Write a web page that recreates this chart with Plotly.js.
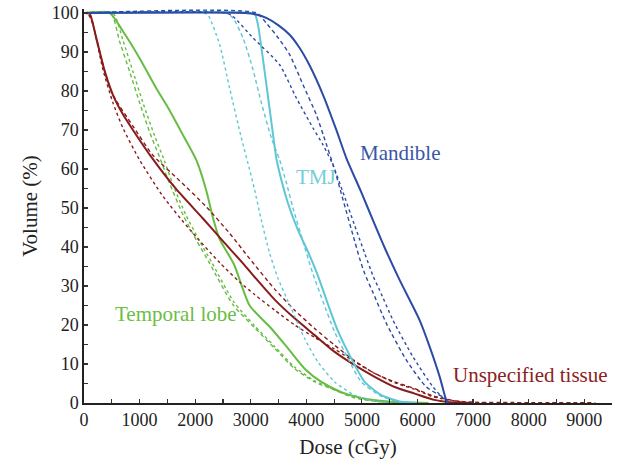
<!DOCTYPE html>
<html>
<head>
<meta charset="utf-8">
<script src="https://cdn.plot.ly/plotly-3.0.1.min.js"></script>
<style>html,body{margin:0;padding:0;background:#fff;}#chart{width:620px;height:465px;}</style>
</head>
<body>
<div id="chart"></div>
<script>
// Mandible
const mandSolidX = [0, 2900, 3100, 3280, 3500, 3700, 3880, 4060, 4300, 4540, 4720, 4990, 5200, 5410, 5680, 6040, 6220, 6400, 6490, 6530];
const mandSolidY = [100, 100, 99.6, 98.7, 96.8, 94.4, 91, 86.5, 79, 70, 62.8, 54, 46.8, 39.8, 31.5, 21.2, 14.4, 6.7, 2, 0];
const mandDashX = [0, 3100, 3280, 3500, 3700, 3940, 4180, 4310, 4510, 4660, 4870, 4960, 5050, 5200, 5440, 5800, 6160, 6460, 6600];
const mandDashY = [100, 100, 97.4, 93.5, 89.3, 81.6, 73.9, 68.5, 59.8, 52.1, 41.5, 37, 33.2, 28.3, 20.4, 11, 4.1, 1.5, 0];
const mandDotX = [0, 2550, 2680, 3040, 3520, 3820, 4120, 4300, 4480, 4660, 4870, 5050, 5200, 5320, 5560, 5920, 6280, 6480, 6600];
const mandDotY = [100, 100, 99.1, 93.6, 86.7, 78.2, 70.5, 66.2, 61, 54, 45.5, 38.4, 32.6, 28.9, 21.2, 11.8, 4.1, 1, 0];

// TMJ
const tmjSolidX = [0, 3000, 3080, 3130, 3250, 3390, 3460, 3550, 3670, 3850, 4030, 4210, 4360, 4570, 4810, 5050, 5350, 5710, 6000];
const tmjSolidY = [100, 100, 99.5, 97, 85, 70, 62.8, 57.2, 51.2, 44.3, 38.8, 32.6, 26.5, 18.4, 11.4, 5.4, 2, 0.3, 0];
const tmjDashX = [0, 2550, 2680, 2860, 3040, 3190, 3370, 3520, 3640, 3760, 3970, 4110, 4300, 4510, 4750, 4990, 5350, 5700, 6000];
const tmjDashY = [100, 100, 98.7, 93.6, 85.5, 77, 68, 62.3, 56.5, 50, 40, 33.5, 26, 18.2, 11.4, 5.4, 1.7, 0.2, 0];
const tmjDotX = [0, 2150, 2230, 2440, 2620, 2830, 2980, 3070, 3190, 3340, 3490, 3730, 3970, 4210, 4510, 4870, 5230, 5600];
const tmjDotY = [100, 100, 99.5, 91.9, 80.7, 68, 59.8, 54.6, 46.9, 38.4, 32, 24.2, 16.5, 10.5, 5.4, 2, 0.5, 0];

// Temporal lobe
const tlSolidX = [0, 460, 700, 1000, 1300, 1480, 1750, 2020, 2200, 2320, 2440, 2700, 2980, 3370, 3670, 3970, 4270, 4630, 4990, 5480, 6200];
const tlSolidY = [100, 100, 95.3, 88.4, 80.7, 76.5, 69.5, 62.3, 54.5, 47.5, 42, 35.5, 25, 19.1, 14, 8.8, 5.4, 2.8, 1.3, 0.4, 0];
const tlDashX = [0, 480, 640, 820, 1000, 1180, 1360, 1540, 1780, 2020, 2260, 2680, 3070, 3430, 3790, 4150, 4510, 4870, 5350, 6000];
const tlDashY = [100, 100, 92.7, 85, 77, 69.5, 63, 56.3, 48.3, 41.8, 35.8, 25.2, 19.3, 14, 8.8, 5.4, 3.3, 1.3, 0.3, 0];
const tlDotX = [0, 520, 700, 880, 1060, 1270, 1450, 1600, 1830, 2080, 2300, 2700, 3070, 3430, 3790, 4150, 4510, 4870, 5350, 6000];
const tlDotY = [100, 100, 93, 85, 77, 68.5, 62, 56, 48.3, 41.5, 36, 25.8, 19.8, 14.5, 9.2, 5.7, 3.4, 1.4, 0.3, 0];

// Unspecified tissue
const utSolidX = [0, 100, 220, 370, 520, 700, 880, 1240, 1660, 2140, 2500, 2860, 3070, 3430, 3790, 4150, 4510, 4870, 5230, 5590, 5950, 6300, 6700, 7000];
const utSolidY = [100, 99.8, 93.6, 85.2, 79, 74, 70, 62.5, 54.8, 47.3, 41.5, 35.8, 32.3, 26.5, 21.7, 17.4, 13.1, 9.7, 6.7, 4.1, 2.4, 0.8, 0.1, 0];
const utDashX = [0, 100, 220, 370, 520, 880, 1240, 1720, 2200, 2620, 2980, 3430, 3790, 4150, 4510, 4870, 5230, 5590, 5950, 6280, 6700, 7000, 9200];
const utDashY = [100, 99.8, 93.6, 85.2, 79, 71, 63.5, 57, 50.3, 43.5, 37, 29.2, 23.8, 19.1, 14.8, 10.8, 7.6, 5.4, 3.7, 1.8, 0.5, 0.2, 0.1];
const utDotX = [0, 60, 160, 340, 520, 700, 1000, 1420, 1900, 2440, 2800, 3070, 3430, 3790, 4150, 4510, 4870, 5230, 5590, 5950, 6300, 6800, 7200];
const utDotY = [100, 100, 97, 85.5, 77, 70.5, 62.3, 53, 44.5, 36, 31, 27.8, 23.8, 20, 16.8, 13.8, 10.6, 7.6, 5.2, 3.5, 1.5, 0.3, 0];

const structNames = ["Mandible", "TMJ", "Temporal lobe", "Unspecified tissue"];
const xTicks = [0, 1000, 2000, 3000, 4000, 5000, 6000, 7000, 8000, 9000];
const yTicks = [0, 10, 20, 30, 40, 50, 60, 70, 80, 90, 100];

const cMand = "#2b4ba5", cTmj = "#5ec7d6", cTl = "#67bc44", cUt = "#8a1b1b";
const DASH = "4px,3px";
function tr(x, y, color, dash, width) {
  return {x: x, y: y, type: "scatter", mode: "lines",
    line: {color: color, width: width, dash: dash, shape: "spline", smoothing: 0.6},
    hoverinfo: "skip", showlegend: false};
}
const data = [
  tr(tlDotX, tlDotY, cTl, "dot", 1.4),
  tr(tlDashX, tlDashY, cTl, DASH, 1.4),
  tr(tlSolidX, tlSolidY, cTl, "solid", 2),
  tr(utDotX, utDotY, cUt, "dot", 1.4),
  tr(utDashX, utDashY, cUt, DASH, 1.4),
  tr(utSolidX, utSolidY, cUt, "solid", 2),
  tr(tmjDotX, tmjDotY, cTmj, "dot", 1.4),
  tr(tmjDashX, tmjDashY, cTmj, DASH, 1.4),
  tr(tmjSolidX, tmjSolidY, cTmj, "solid", 2),
  tr(mandDotX, mandDotY, cMand, "dot", 1.4),
  tr(mandDashX, mandDashY, cMand, DASH, 1.4),
  tr(mandSolidX, mandSolidY, cMand, "solid", 2)
];

const FONT = "Liberation Serif, DejaVu Serif, serif";
const layout = {
  width: 620, height: 465,
  margin: {l: 84, r: 8, t: 9, b: 62, pad: 0},
  paper_bgcolor: "#fff", plot_bgcolor: "#fff",
  font: {family: FONT, size: 18, color: "#222"},
  xaxis: {
    range: [0, 9500], tickvals: xTicks, ticktext: xTicks.map(String),
    ticks: "inside", ticklen: 4, tickwidth: 1.2, tickcolor: "#333",
    minor: {dtick: 500, tick0: 0, ticks: "inside", ticklen: 4, tickwidth: 1.2, tickcolor: "#333"},
    showline: true, linecolor: "#222", linewidth: 1.6, showgrid: false, zeroline: false,
    tickfont: {family: FONT, size: 18, color: "#222"},
    title: {text: "Dose (cGy)", font: {family: FONT, size: 21, color: "#222"}, standoff: 10}
  },
  yaxis: {
    range: [0, 101], tickvals: yTicks, ticktext: yTicks.map(String),
    ticks: "inside", ticklen: 4, tickwidth: 1.2, tickcolor: "#333",
    minor: {dtick: 5, tick0: 0, ticks: "inside", ticklen: 4, tickwidth: 1.2, tickcolor: "#333"},
    showline: true, linecolor: "#222", linewidth: 1.6, showgrid: false, zeroline: false,
    tickfont: {family: FONT, size: 18, color: "#222"},
    title: {text: "Volume (%)", font: {family: FONT, size: 21, color: "#222"}, standoff: 8}
  },
  annotations: [
    {x: 5680, y: 64.1, text: structNames[0], showarrow: false, font: {family: FONT, size: 21, color: "#3a55a8"}},
    {x: 4170, y: 58, text: structNames[1], showarrow: false, font: {family: FONT, size: 21, color: "#74ced9"}},
    {x: 1650, y: 22.8, text: structNames[2], showarrow: false, font: {family: FONT, size: 21, color: "#6cbd45"}},
    {x: 8036, y: 7.1, text: structNames[3], showarrow: false, font: {family: FONT, size: 21, color: "#8b2222"}}
  ]
};
Plotly.newPlot("chart", data, layout, {staticPlot: true, displayModeBar: false});
</script>
</body>
</html>
